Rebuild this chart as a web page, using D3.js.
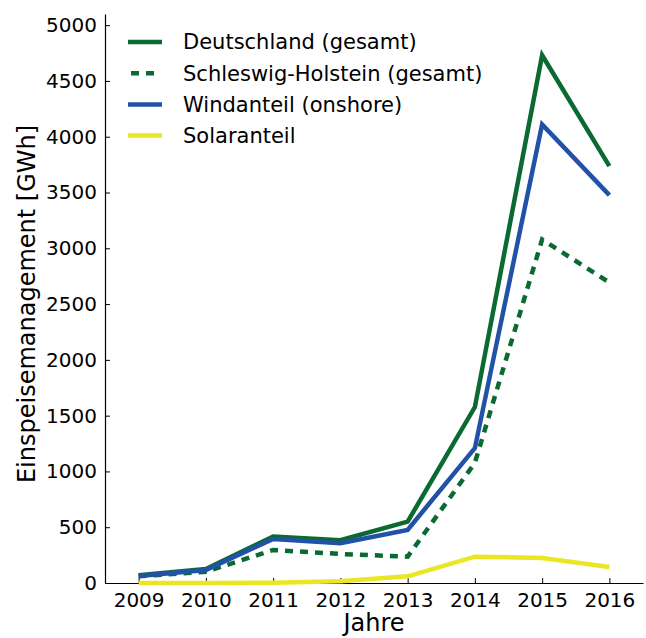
<!DOCTYPE html>
<html>
<head>
<meta charset="utf-8">
<script src="https://cdn.jsdelivr.net/npm/d3@7"></script>
<style>
  body { margin: 0; background: #fff; }
  svg text { font-family: "DejaVu Sans", sans-serif; fill: #000; }
</style>
</head>
<body>
<div id="chart"></div>
<script>
const years = [2009, 2010, 2011, 2012, 2013, 2014, 2015, 2016];
const deutschland = [70, 125, 416, 383, 550, 1577, 4730, 3737];
const schleswigHolstein = [60, 101, 296, 260, 236, 1077, 3079, 2693];
const windanteil = [63, 117, 395, 356, 476, 1209, 4111, 3477];
const solaranteil = [0, 0, 3, 15, 60, 236, 224, 144];
const yTicks = [0, 500, 1000, 1500, 2000, 2500, 3000, 3500, 4000, 4500, 5000];

const series = [
  { name: 'Deutschland (gesamt)', values: deutschland, color: '#0a6a32', dash: null },
  { name: 'Schleswig-Holstein (gesamt)', values: schleswigHolstein, color: '#0a6a32', dash: '8,7' },
  { name: 'Windanteil (onshore)', values: windanteil, color: '#2152a8', dash: null },
  { name: 'Solaranteil', values: solaranteil, color: '#ebe623', dash: null }
];

const W = 646, H = 638;
const m = { top: 14, right: 3, bottom: 55, left: 105 };

const svg = d3.select('#chart')
  .append('svg')
  .attr('width', W)
  .attr('height', H);

const x = d3.scaleLinear()
  .domain([2008.5, 2016.5])
  .range([m.left, W - m.right]);

const y = d3.scaleLinear()
  .domain([0, 5100])
  .range([H - m.bottom, m.top]);

// axes, ticks pointing inward
const xAxis = d3.axisBottom(x)
  .tickValues(years)
  .tickFormat(d3.format('d'))
  .tickSizeInner(-5)
  .tickSizeOuter(0)
  .tickPadding(10);

const yAxis = d3.axisLeft(y)
  .tickValues(yTicks)
  .tickFormat(d3.format('d'))
  .tickSizeInner(-5)
  .tickSizeOuter(0)
  .tickPadding(8);

const gx = svg.append('g')
  .attr('transform', `translate(0, ${H - m.bottom})`)
  .call(xAxis);

const gy = svg.append('g')
  .attr('transform', `translate(${m.left}, 0)`)
  .call(yAxis);

[gx, gy].forEach(g => {
  g.selectAll('text').style('font-size', '20px').attr('fill', '#000');
  g.selectAll('line').attr('stroke', '#000').attr('stroke-width', 1);
  g.select('.domain').attr('stroke', '#000').attr('stroke-width', 1.2);
});

svg.append('text')
  .attr('x', (m.left + W - m.right) / 2)
  .attr('y', H - 7)
  .attr('text-anchor', 'middle')
  .style('font-size', '24px')
  .text('Jahre');

svg.append('text')
  .attr('transform', `translate(35, ${(25 + H - m.bottom) / 2}) rotate(-90)`)
  .attr('text-anchor', 'middle')
  .style('font-size', '24px')
  .text('Einspeisemanagement [GWh]');

// lines
const line = d3.line()
  .x((d, i) => x(years[i]))
  .y(d => y(d));

// draw order: solar, dashed SH, Deutschland, Wind on top
const drawOrder = [3, 1, 0, 2];
svg.append('g')
  .selectAll('path')
  .data(drawOrder.map(i => series[i]))
  .enter()
  .append('path')
  .attr('d', d => line(d.values))
  .attr('fill', 'none')
  .attr('stroke', d => d.color)
  .attr('stroke-width', 4.5)
  .attr('stroke-dasharray', d => d.dash)
  .attr('stroke-linejoin', 'miter');

// legend
const legend = svg.append('g')
  .attr('transform', 'translate(128, 42)');

const item = legend.selectAll('g')
  .data(series)
  .enter()
  .append('g')
  .attr('transform', (d, i) => `translate(0, ${i * 31.2})`);

item.append('line')
  .attr('x1', 0)
  .attr('x2', 34)
  .attr('stroke', d => d.color)
  .attr('stroke-width', 4.5)
  .attr('stroke-dasharray', d => d.dash ? '0,3,8,7,8,8' : null);

item.append('text')
  .attr('x', 55)
  .attr('dy', '0.35em')
  .style('font-size', '21px')
  .text(d => d.name);
</script>
</body>
</html>
